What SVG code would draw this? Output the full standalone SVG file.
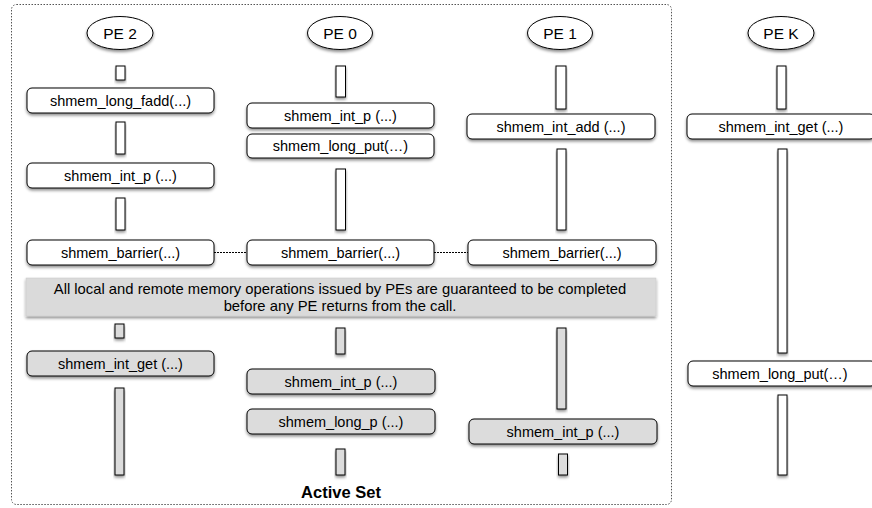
<svg xmlns="http://www.w3.org/2000/svg" width="872" height="508" viewBox="0 0 872 508">
<defs>
<filter id="sh" x="-20%" y="-50%" width="140%" height="220%">
<feDropShadow dx="0" dy="2" stdDeviation="1.6" flood-color="#000" flood-opacity="0.45"/>
</filter>
<style>
.box{fill:#fff;stroke:#000;stroke-width:1;filter:url(#sh)}
.gbox{fill:#dcdcdc;stroke:#000;stroke-width:1;filter:url(#sh)}
.bar{fill:#fff;stroke:#000;stroke-width:1;filter:url(#sh)}
.gbar{fill:#dcdcdc;stroke:#000;stroke-width:1;filter:url(#sh)}
.pe{fill:#fff;stroke:#000;stroke-width:1;filter:url(#sh)}
text{font-family:"Liberation Sans",Arial,sans-serif;font-size:14.5px;fill:#000;text-anchor:middle}
.pet{font-size:15.5px}
.dash{stroke:#000;stroke-width:1;stroke-dasharray:2,1;fill:none}
.frame{fill:none;stroke:#555;stroke-width:1;stroke-dasharray:1.5,1.5}
</style>
</defs>
<rect class="frame" x="11.5" y="4.5" width="660" height="500" rx="5"/>
<text x="341" y="498" style="font-weight:bold;font-size:16.5px">Active Set</text>

<g id="pe2">
<ellipse class="pe" cx="120" cy="33" rx="33" ry="16.5"/>
<text class="pet" x="120" y="39">PE 2</text>
<rect class="bar" x="116" y="66" width="9" height="14"/>
<rect class="box" x="27" y="88" width="187" height="25" rx="5"/>
<text x="120.5" y="105.5">shmem_long_fadd(...)</text>
<rect class="bar" x="116" y="122" width="9" height="32"/>
<rect class="box" x="27" y="163" width="187" height="25" rx="5"/>
<text x="120.5" y="180.5">shmem_int_p (...)</text>
<rect class="bar" x="116" y="198" width="9" height="32"/>
<rect id="b2" class="box" x="27" y="240" width="187" height="25" rx="5"/>
<text x="120.5" y="257.5">shmem_barrier(...)</text>
<rect class="gbar" x="115" y="324" width="9" height="14"/>
<rect class="gbox" x="27" y="351" width="187" height="25" rx="5"/>
<text x="120.5" y="368.5">shmem_int_get (...)</text>
<rect class="gbar" x="115" y="388" width="9" height="87"/>
</g>

<g id="pe0">
<ellipse class="pe" cx="340" cy="33" rx="32.5" ry="16.5"/>
<text class="pet" x="340" y="39">PE 0</text>
<rect class="bar" x="336" y="66" width="9.5" height="31"/>
<rect class="box" x="247" y="103" width="187" height="25" rx="5"/>
<text x="340.5" y="120.5">shmem_int_p (...)</text>
<rect class="box" x="247" y="134" width="187" height="24" rx="5"/>
<text x="340.5" y="151">shmem_long_put(…)</text>
<rect class="bar" x="336" y="169" width="9.5" height="61"/>
<rect class="box" x="247" y="240" width="187" height="25" rx="5"/>
<text x="340.5" y="257.5">shmem_barrier(...)</text>
<rect class="gbar" x="336" y="328" width="9" height="26"/>
<rect class="gbox" x="247" y="369" width="188" height="25" rx="5"/>
<text x="341" y="386.5">shmem_int_p (...)</text>
<rect class="gbox" x="247" y="409" width="188" height="25" rx="5"/>
<text x="341" y="426.5">shmem_long_p (...)</text>
<rect class="gbar" x="336" y="449" width="9" height="26"/>
</g>

<g id="pe1">
<ellipse class="pe" cx="560" cy="33" rx="32.5" ry="16.5"/>
<text class="pet" x="560" y="39">PE 1</text>
<rect class="bar" x="556" y="66" width="10" height="43"/>
<rect class="box" x="467" y="114" width="188" height="25" rx="5"/>
<text x="561" y="131.5">shmem_int_add (...)</text>
<rect class="bar" x="557" y="149" width="9" height="81"/>
<rect class="box" x="468" y="240" width="188" height="25" rx="5"/>
<text x="562" y="257.5">shmem_barrier(...)</text>
<rect class="gbar" x="557" y="328" width="9" height="81"/>
<rect class="gbox" x="469" y="419" width="188" height="25" rx="5"/>
<text x="563" y="436.5">shmem_int_p (...)</text>
<rect class="gbar" x="558.5" y="454" width="9" height="21"/>
</g>

<g id="pek">
<ellipse class="pe" cx="781" cy="33" rx="33" ry="16.5"/>
<text class="pet" x="781" y="39">PE K</text>
<rect class="bar" x="777" y="66" width="9" height="43"/>
<rect class="box" x="687" y="114" width="188" height="25" rx="5"/>
<text x="781" y="131.5">shmem_int_get (...)</text>
<rect class="bar" x="778" y="149" width="9" height="204"/>
<rect class="box" x="688" y="361" width="188" height="25" rx="5"/>
<text x="780" y="378.5">shmem_long_put(…)</text>
<rect class="bar" x="778" y="395" width="9" height="80"/>
</g>

<g id="note">
<rect x="26" y="278" width="630" height="38" fill="#dadada" stroke="#c8c8c8" stroke-width="0.5" filter="url(#sh)"/>
<text x="340" y="294" style="font-size:14.8px">All local and remote memory operations issued by PEs are guaranteed to be completed</text>
<text x="340" y="311" style="font-size:14.8px">before any PE returns from the call.</text>
</g>

<g id="connectors">
<line class="dash" x1="214" y1="252.5" x2="247" y2="252.5"/>
<line class="dash" x1="434" y1="252.5" x2="468" y2="252.5"/>
</g>
</svg>
